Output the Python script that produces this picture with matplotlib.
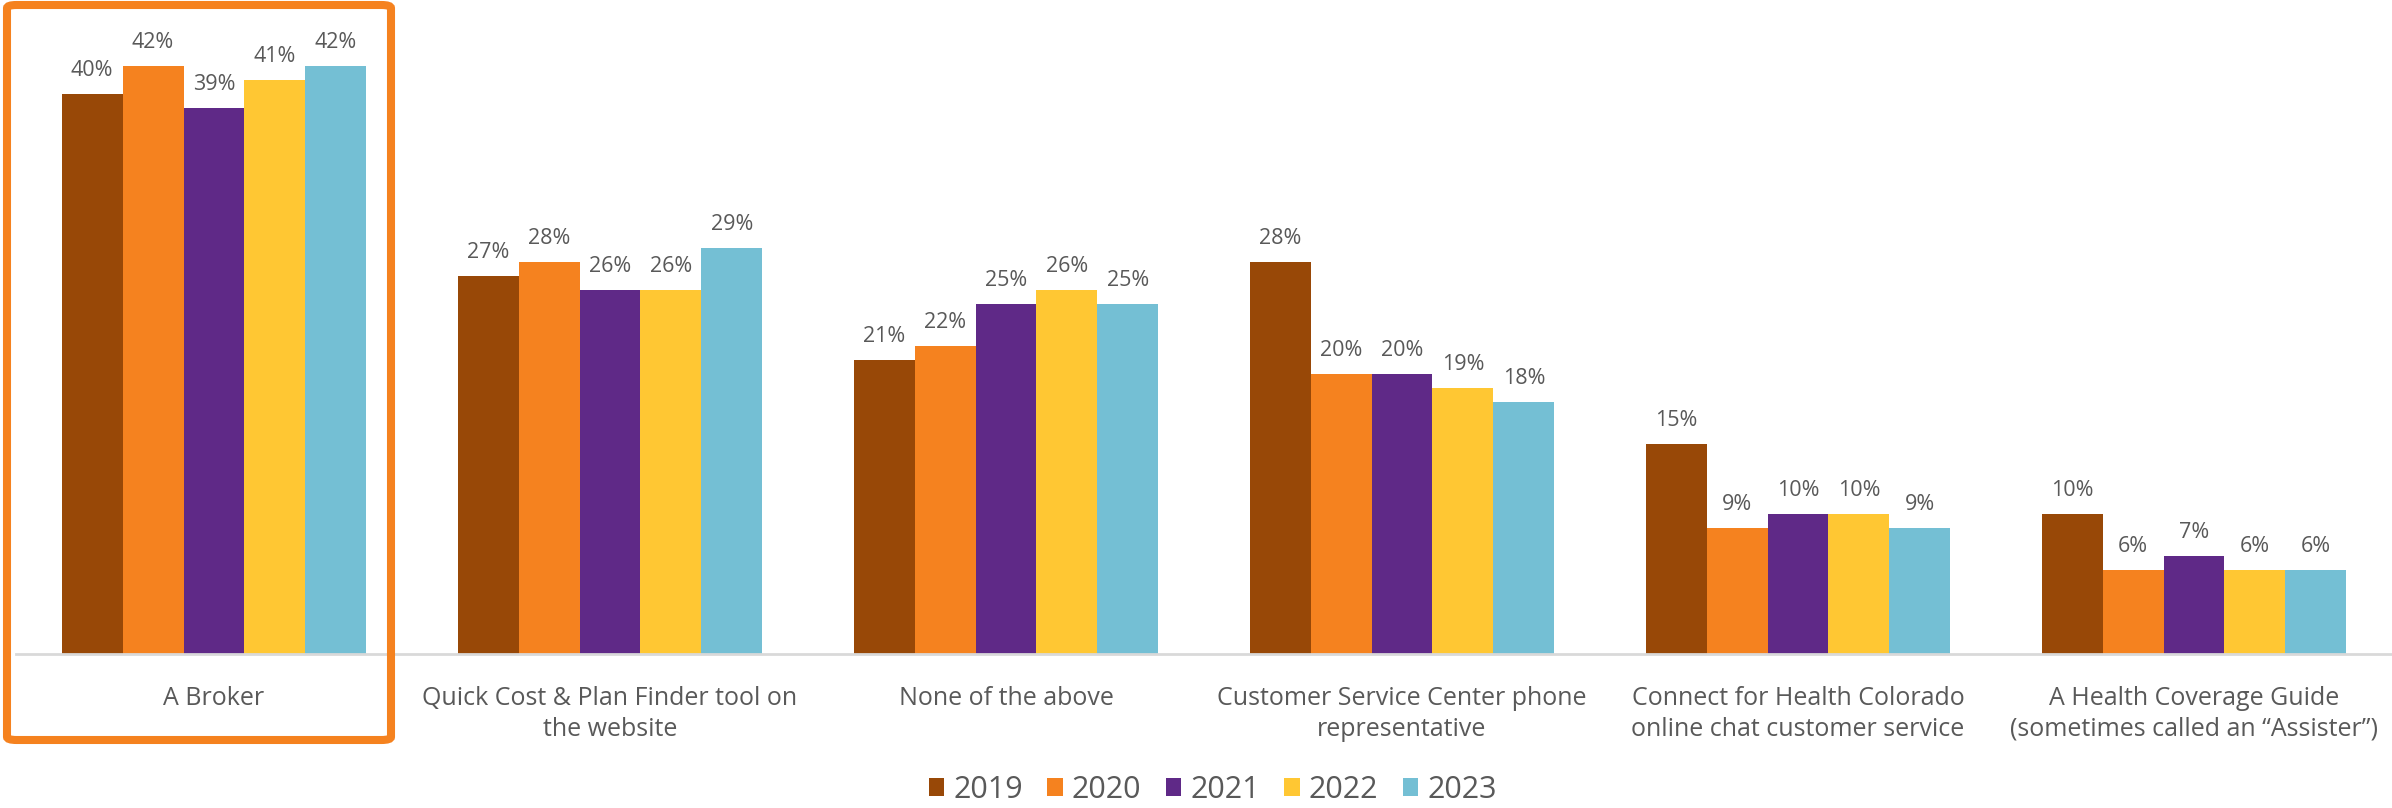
import matplotlib.pyplot as plt
import numpy as np
from matplotlib.patches import FancyBboxPatch

categories = [
    "A Broker",
    "Quick Cost & Plan Finder tool on\nthe website",
    "None of the above",
    "Customer Service Center phone\nrepresentative",
    "Connect for Health Colorado\nonline chat customer service",
    "A Health Coverage Guide\n(sometimes called an \u201cAssister\u201d)",
]
years = ["2019", "2020", "2021", "2022", "2023"]
pct_2019 = [40, 27, 21, 28, 15, 10]
pct_2020 = [42, 28, 22, 20, 9, 6]
pct_2021 = [39, 26, 25, 20, 10, 7]
pct_2022 = [41, 26, 26, 19, 10, 6]
pct_2023 = [42, 29, 25, 18, 9, 6]
colors = ["#984807", "#F5821F", "#5F2987", "#FFC733", "#74BFD4"]

series = [pct_2019, pct_2020, pct_2021, pct_2022, pct_2023]
text_color = "#595959"
plt.rcParams["font.family"] = ["Open Sans", "DejaVu Sans"]

W, H = 2392, 808
fig = plt.figure(figsize=(W / 100, H / 100), dpi=100)
ax = fig.add_axes([16 / W, 154 / H, 2376 / W, 630 / H])

x = np.arange(len(categories))
width = 0.77 / len(series)
for i, (vals, year, col) in enumerate(zip(series, years, colors)):
    pos = x + (i - 2) * width
    bars = ax.bar(pos, vals, width, color=col, label=year, zorder=2)
    for b, v in zip(bars, vals):
        ax.annotate(f"{v}%", (b.get_x() + b.get_width() / 2, v),
                    xytext=(0, 9), textcoords="offset points",
                    ha="center", va="bottom", fontsize=15.5, color=text_color)

ax.set_xlim(-0.5, len(categories) - 0.5)
ax.set_ylim(0, 45)
ax.set_yticks([])
ax.set_xticks(x)
ax.set_xticklabels(categories, fontsize=18, color=text_color, linespacing=1.3)
ax.tick_params(axis="x", length=0, pad=23)
for side in ["top", "right", "left"]:
    ax.spines[side].set_visible(False)
ax.spines["bottom"].set_color("#D9D9D9")
ax.spines["bottom"].set_linewidth(2)

leg = fig.legend(loc="center", bbox_to_anchor=(0.507, 18 / H), ncol=5, frameon=False,
                 fontsize=22, handlelength=0.5, handleheight=0.5, handletextpad=0.3,
                 columnspacing=0.8, labelcolor=text_color)

# highlight box around the first group
box = FancyBboxPatch((7 / W, 68 / H), 384 / W, 735 / H,
                     boxstyle="round,pad=0,rounding_size=0.004",
                     transform=fig.transFigure, fill=False,
                     edgecolor="#F5821F", linewidth=5.8, zorder=10)
fig.patches.append(box)

fig.savefig("out.png", dpi=100)
